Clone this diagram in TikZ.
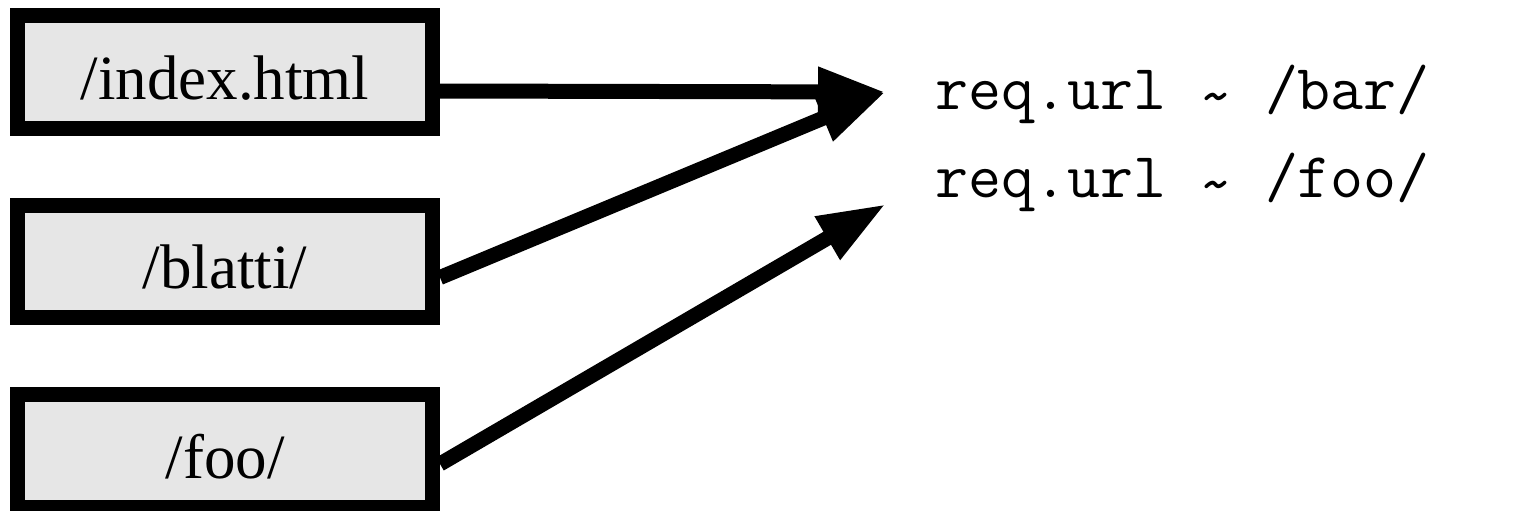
\documentclass[tikz,border=0pt]{standalone}
\usepackage{fontspec}
\setmainfont{Liberation Serif}
\usepackage{tikz}
\usetikzlibrary{arrows.meta, positioning}
\definecolor{pathgray}{RGB}{230, 230, 230}
\definecolor{inkblack}{RGB}{0, 0, 0}
\newcommand{\midtilde}{\raisebox{-3.5pt}{\textasciitilde}}

\tikzset{
    pathbox/.style={draw=inkblack, fill=pathgray, line width=7.5pt,
        minimum width=207.5pt, minimum height=56.25pt,
        text height=27pt, text depth=0pt, inner sep=0pt,
        font=\fontsize{31.5}{38}\selectfont},
    ruletext/.style={anchor=base west, inner sep=0pt,
        font=\ttfamily\fontsize{32}{38}\selectfont},
    matcharrow/.style={draw=inkblack, line width=7.5pt,
        -{Triangle[length=34pt, width=23pt]}}
}

\begin{document}
\begin{tikzpicture}[x=0.5pt, y=-0.5pt]
    \useasboundingbox (0,0) rectangle (1514,510);

    % Requested paths
    \node[pathbox] (pgindex) at (225,72) {/index.html};
    \node[pathbox] (pgblatti) at (225,261.5) {/blatti/};
    \node[pathbox] (pgfoo) at (225,451) {/foo/};

    % Routing rules
    \node[ruletext] (rulebar) at (935,109) {req.url \midtilde{} /bar/};
    \node[ruletext] (rulefoo) at (935,197) {req.url \midtilde{} /foo/};

    % Arrow ends, left of the rules
    \coordinate (tipbar) at (886,92);
    \coordinate (tipfoo) at (886,204);

    % Arrows
    \draw[matcharrow] ([yshift=-9.5pt]pgindex.east) -- (tipbar);
    \draw[matcharrow] ([yshift=-8pt]pgblatti.east) -- (tipbar);
    \draw[matcharrow] ([yshift=-6.5pt]pgfoo.east) -- (tipfoo);

\end{tikzpicture}
\end{document}
